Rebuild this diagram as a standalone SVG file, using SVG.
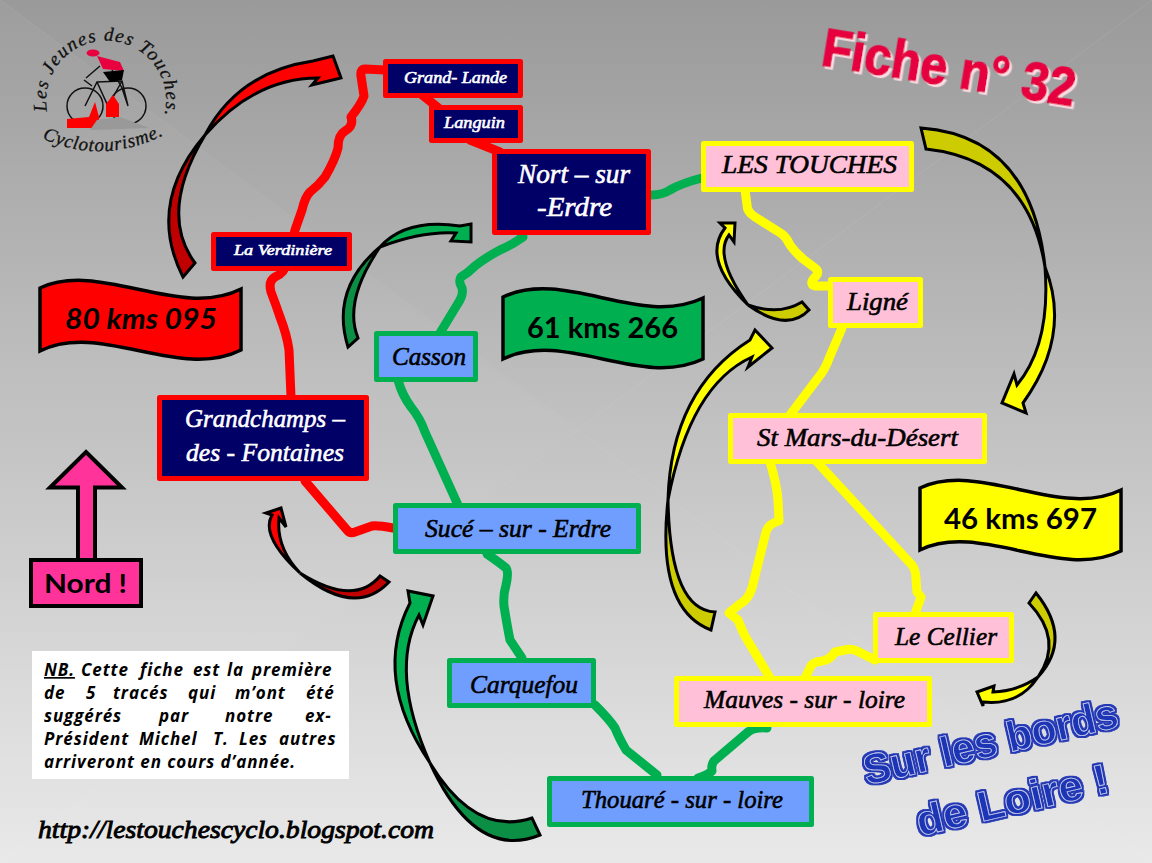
<svg xmlns="http://www.w3.org/2000/svg" width="1152" height="863" viewBox="0 0 1152 863">
<defs>
<linearGradient id="bg" x1="0" y1="0" x2="0" y2="1"><stop offset="0" stop-color="#9a9a9a"/><stop offset="0.35" stop-color="#b6b6b6"/><stop offset="1" stop-color="#e9e9e9"/></linearGradient>
<filter id="ext" x="-10%" y="-20%" width="120%" height="150%"><feDropShadow dx="2.500" dy="2" stdDeviation="0" flood-color="#fbdde6"/></filter>
<filter id="outl" x="-10%" y="-20%" width="120%" height="140%"><feMorphology in="SourceAlpha" operator="dilate" radius="2.400" result="d"/><feFlood flood-color="#2438b4"/><feComposite in2="d" operator="in" result="b"/><feMerge><feMergeNode in="b"/><feMergeNode in="SourceGraphic"/></feMerge></filter>
</defs>
<style>
.road{fill:none;stroke-width:9;stroke-linejoin:round;stroke-linecap:round}
.r{stroke:#ff0000}.g{stroke:#00b050}.y{stroke:#ffff00}
.box{stroke-width:5;stroke-linejoin:round}
.nr{fill:#000066;stroke:#ff0000}.ng{fill:#6f9eff;stroke:#00b050}.ny{fill:#ffc0d8;stroke:#ffff00}
.t{font-family:"Liberation Serif",serif;font-style:italic;font-weight:normal;fill:#000;stroke:#000;stroke-width:0.6px}
.w{fill:#fff;stroke:#fff}
.ar{stroke:#000;stroke-width:3;stroke-linejoin:miter}
.ban{stroke:#000;stroke-width:3.5;stroke-linejoin:miter}
.bt{font-family:Lato,"Liberation Sans",sans-serif;font-weight:bold;fill:#000}
.nb{font-family:"Open Sans","Liberation Sans",sans-serif;font-weight:bold;font-style:italic;font-size:17px;letter-spacing:0.9px;fill:#000}
</style>
<g id="background">
<rect width="1152" height="863" fill="url(#bg)"/>
<polygon points="0,0 575,430 0,860" fill="#fff" opacity="0.03"/>
<path d="M0,0 L580,432 L1152,863 M0,863 L575,432 L1152,0" stroke="#fff" stroke-width="1.500" opacity="0.05" fill="none"/>
</g>
<g id="connectors">
<path class="road r" d="M385,70 L365,69 Q360,69 361,76 L364,96 Q362,103 351,117 Q354,126 345,131 Q338,135 338,148 Q335,160 325,177 Q318,186 310,192 Q305,197 302,210 L295,230 L287,262 Q285,273 275,277 Q268,281 271,292 Q276,305 280,317 Q287,335 289,350 L291,397"/>
<path class="road r" d="M305,481 L347,530 Q350,534 355,532 L372,526 Q377,525 393,528"/>
<path class="road r" d="M421,94 L441,110"/>
<path class="road r" d="M470,140 L500,152"/>
<path class="road g" d="M652,195 Q662,195 670,190 Q682,183 702,178"/>
<path class="road g" d="M523,237 Q510,246 500,250 Q485,258 475,266 Q468,273 461,277 Q458,281 462,288 Q464,295 457,305 L440,333"/>
<path class="road g" d="M398,380 Q402,395 411,407 Q420,418 425,432 L458,505"/>
<path class="road g" d="M487,554 Q500,563 506,568 Q509,572 506,585 Q503,595 504,606 Q507,625 510,640 L522,658"/>
<path class="road g" d="M595,705 Q610,720 615,728 Q619,738 626,750 L657,775"/>
<path class="road g" d="M698,778 Q708,775 712,771 Q711,765 714,761 L748,732 Q755,727 767,728"/>
<path class="road y" d="M745,190 L747,205 Q747,212 755,217 L782,234 Q787,238 790,245 Q795,252 803,259 L815,268 Q820,272 816,276 Q808,284 815,286 L830,286"/>
<path class="road y" d="M842,328 L830,356 Q825,370 818,378 L790,415"/>
<path class="road y" d="M770,462 Q777,485 778,500 L779,521 Q768,524 766,532 L752,588 Q748,600 740,604 L729,613 L738,620 Q742,630 745,636 L770,678"/>
<path class="road y" d="M817,462 L912,565 Q916,570 916,580 L917,592 L921,597 L915,614"/>
<path class="road y" d="M875,660 L857,651 Q850,648 845,650 L835,652 Q830,660 822,661 Q812,662 810,668 L805,678"/>
</g>
<g id="arrows">
<path class="ar" fill="#c00000" d="M183,277 Q146,204 205,135 Q158,213 195,263 Z"/>
<path class="ar" fill="#ff0000" d="M205,135 Q238,72 313,61 L333,56 L341,78 L312,85 L318,78 Q255,78 205,135 Z"/>
<path class="ar" fill="#0b8f45" d="M348,347 Q330,289 380,247 Q343,301 358,338 Z"/>
<path class="ar" fill="#00b050" d="M380,247 Q406,218 460,226 L471,224 L471,242 L451,241 L456,233 Q422,231 380,247 Z"/>
<path class="ar" fill="#cccc00" d="M711,630 Q656,609 668,500 Q670,610 715,612 Z"/>
<path class="ar" fill="#ffff00" d="M668,500 Q671,390 750,340 L755,330 L772,348 L748,367 L752,357 Q690,385 668,500 Z"/>
<path class="ar" fill="#cccc00" d="M921,128 Q1031,136 1045,267 Q1028,160 926,149 Z"/>
<path class="ar" fill="#ffff00" d="M1045,267 Q1072,335 1023,403 L1026,413 L1002,403 L1014,374 L1017,385 Q1051,344 1045,267 Z"/>
<path class="ar" fill="#cccc00" d="M809,310 Q787,333 748,305 Q779,316 802,302 Z"/>
<path class="ar" fill="#ffff00" d="M748,305 Q701,259 725,228 L720,223 L735,223 L734,242 L729,235 Q713,256 748,305 Z"/>
<path class="ar" fill="#c00000" d="M389,582 Q355,618 300,573 Q354,607 380,576 Z"/>
<path class="ar" fill="#ff0000" d="M300,573 Q260,536 272,515 L266,513 L281,508 L286,527 L279,518 Q276,548 300,573 Z"/>
<path class="ar" fill="#0b8f45" d="M540,835 Q475,861 430,763 Q475,837 532,818 Z"/>
<path class="ar" fill="#00b050" d="M430,763 Q372,677 410,603 L408,591 L433,596 L423,625 L419,615 Q389,671 430,763 Z"/>
<path class="ar" fill="#cccc00" d="M1036,593 Q1073,639 1038,677 Q1064,640 1029,603 Z"/>
<path class="ar" fill="#ffff00" d="M1038,677 Q1019,706 983,702 L983,706 L977,692 L994,686 L993,692 Q1018,691 1038,677 Z"/>
</g>
<g id="node-grand-lande"><rect class="box nr" x="385.500" y="61.500" width="135" height="34"/><text class="t w" x="404" y="83" font-size="16" textLength="103" lengthAdjust="spacingAndGlyphs">Grand- Lande</text></g>
<g id="node-languin"><rect class="box nr" x="431.500" y="107.500" width="89" height="33"/><text class="t w" x="444" y="128" font-size="16" textLength="61" lengthAdjust="spacingAndGlyphs">Languin</text></g>
<g id="node-nort"><rect class="box nr" x="494.500" y="151.500" width="154" height="81"/><text class="t w" font-size="27"><tspan x="518" y="183" textLength="112" lengthAdjust="spacingAndGlyphs">Nort – sur</tspan><tspan x="537" y="216" textLength="75" lengthAdjust="spacingAndGlyphs">-Erdre</tspan></text></g>
<g id="node-verdiniere"><rect class="box nr" x="213.500" y="234.500" width="136" height="34"/><text class="t w" x="234" y="255" font-size="15" textLength="98" lengthAdjust="spacingAndGlyphs">La Verdinière</text></g>
<g id="node-grandchamps"><rect class="box nr" x="159.500" y="397.500" width="207" height="81"/><text class="t w" font-size="26"><tspan x="185" y="427" textLength="160" lengthAdjust="spacingAndGlyphs">Grandchamps –</tspan><tspan x="186" y="461" textLength="158" lengthAdjust="spacingAndGlyphs">des - Fontaines</tspan></text></g>
<g id="node-casson"><rect class="box ng" x="376.500" y="333.500" width="99" height="46"/><text class="t" x="392" y="365" font-size="25" textLength="74" lengthAdjust="spacingAndGlyphs">Casson</text></g>
<g id="node-suce"><rect class="box ng" x="395.500" y="505.500" width="243" height="46"/><text class="t" x="425" y="537" font-size="26" textLength="186" lengthAdjust="spacingAndGlyphs">Sucé – sur - Erdre</text></g>
<g id="node-carquefou"><rect class="box ng" x="449.500" y="660.500" width="144" height="45"/><text class="t" x="470" y="693" font-size="26" textLength="108" lengthAdjust="spacingAndGlyphs">Carquefou</text></g>
<g id="node-thouare"><rect class="box ng" x="549.500" y="778.500" width="262" height="46"/><text class="t" x="581" y="808" font-size="26" textLength="202" lengthAdjust="spacingAndGlyphs">Thouaré - sur - loire</text></g>
<g id="node-touches"><rect class="box ny" x="703.500" y="143.500" width="208" height="46"/><text class="t" x="722" y="173" font-size="26" textLength="175" lengthAdjust="spacingAndGlyphs">LES TOUCHES</text></g>
<g id="node-ligne"><rect class="box ny" x="830.500" y="279.500" width="90" height="46"/><text class="t" x="847" y="310" font-size="26" textLength="61" lengthAdjust="spacingAndGlyphs">Ligné</text></g>
<g id="node-st-mars"><rect class="box ny" x="730.500" y="415.500" width="254" height="46"/><text class="t" x="757" y="446" font-size="26" textLength="201" lengthAdjust="spacingAndGlyphs">St Mars-du-Désert</text></g>
<g id="node-cellier"><rect class="box ny" x="875.500" y="614.500" width="136" height="46"/><text class="t" x="895" y="645" font-size="26" textLength="102" lengthAdjust="spacingAndGlyphs">Le Cellier</text></g>
<g id="node-mauves"><rect class="box ny" x="676.500" y="678.500" width="253" height="46"/><text class="t" x="704" y="708" font-size="26" textLength="201" lengthAdjust="spacingAndGlyphs">Mauves - sur - loire</text></g>
<g id="banner-red"><path class="ban" fill="#ff0000" d="M40,288 C100,260 180,320 241,289 L241,350 C180,381 100,321 40,351 Z"/><text class="bt" x="65" y="329" font-size="28" font-style="italic" textLength="152" lengthAdjust="spacingAndGlyphs">80 kms 095</text></g>
<g id="banner-green"><path class="ban" fill="#00b050" d="M503,297 C565,268 640,328 703,298 L703,359 C640,389 565,329 503,359 Z"/><text class="bt" x="527" y="338" font-size="29" textLength="151" lengthAdjust="spacingAndGlyphs">61 kms 266</text></g>
<g id="banner-yellow"><path class="ban" fill="#ffff00" d="M920,488 C980,460 1060,520 1121,490 L1121,551 C1060,581 980,521 920,550 Z"/><text class="bt" x="944" y="529" font-size="29" textLength="153" lengthAdjust="spacingAndGlyphs">46 kms 697</text></g>
<g id="node-nord">
<path d="M86,452 L122,487.500 L95,487.500 L95,560 L78,560 L78,487.500 L50,487.500 Z" fill="#ff3399" stroke="#000" stroke-width="4"/>
<rect x="31" y="560" width="110" height="46" fill="#ff3399" stroke="#000" stroke-width="4"/>
<text class="bt" x="44" y="593" font-size="27" textLength="83" lengthAdjust="spacingAndGlyphs">Nord !</text>
</g>
<g id="note">
<rect x="32" y="651" width="317" height="128" fill="#fff"/>
<text class="nb"><tspan x="44" y="676" text-decoration="underline">NB.</tspan><tspan x="81" y="676">Cette</tspan><tspan x="140" y="676">fiche</tspan><tspan x="193" y="676">est</tspan><tspan x="227" y="676">la</tspan><tspan x="252" y="676">première</tspan><tspan x="44" y="699">de</tspan><tspan x="86" y="699">5</tspan><tspan x="113" y="699">tracés</tspan><tspan x="188" y="699">qui</tspan><tspan x="235" y="699">m’ont</tspan><tspan x="306" y="699">été</tspan><tspan x="44" y="722">suggérés</tspan><tspan x="159" y="722">par</tspan><tspan x="225" y="722">notre</tspan><tspan x="305" y="722">ex-</tspan><tspan x="44" y="745">Président</tspan><tspan x="139" y="745">Michel</tspan><tspan x="213" y="745">T.</tspan><tspan x="239" y="745">Les</tspan><tspan x="279" y="745">autres</tspan><tspan x="44" y="768">arriveront en cours d’année.</tspan></text>
</g>
<text id="url" class="t" x="38" y="838" font-size="26" textLength="396" lengthAdjust="spacingAndGlyphs" style="stroke-width:0.9px">http://lestouchescyclo.blogspot.com</text>
<text id="fiche" transform="translate(820,65) rotate(9.300)" font-family="'Liberation Sans',sans-serif" font-weight="bold" font-size="53" fill="#e6003f" stroke="#e6003f" stroke-width="1.500" filter="url(#ext)" textLength="256" lengthAdjust="spacingAndGlyphs">Fiche n° 32</text>
<g id="loire" font-family="'Liberation Sans',sans-serif" font-weight="bold" font-size="42" fill="#1f35b5" stroke="#c9d0f2" stroke-width="0.800" filter="url(#outl)">
<text transform="translate(867,785) rotate(-13)" textLength="260" lengthAdjust="spacingAndGlyphs">Sur les bords</text>
<text transform="translate(920,836) rotate(-13)" textLength="196" lengthAdjust="spacingAndGlyphs">de Loire !</text>
</g>
<g id="logo">
<circle cx="85" cy="106" r="18" fill="none" stroke="#111" stroke-width="1.500"/>
<circle cx="128" cy="106" r="18" fill="none" stroke="#111" stroke-width="1.500"/>
<path d="M85,106 L97,82 L122,81 L128,106 M97,82 L108,106 L122,81 M84,80 L92,86 M100,66 L86,78 M112,70 L122,88 L128,106" fill="none" stroke="#111" stroke-width="1.500"/>
<ellipse cx="93" cy="53" rx="6.500" ry="3.500" fill="#e8003f"/>
<path d="M97,56 L120,62 L124,71 L103,69 Z" fill="#e8003f"/>
<path d="M103,72 L124,70 L122,80 L110,82 Z" fill="#000"/>
<path d="M67,128 L67,119 L89,117 L95,102 L99,117 L99,128 Z M106,117 L106,104 L113,95 L119,104 L119,117 Z" fill="#ff0000"/>
<path d="M90,130 L97,120 L120,117 L149,128 Z" fill="#999"/>
<path id="arc1" d="M47,111 A60,60 0 1 1 160,127" fill="none"/>
<path id="arc2" d="M42,138 Q104,168 174,130" fill="none"/>
<text font-family="'Liberation Serif',serif" font-style="italic" font-size="19" fill="#111" stroke="#111" stroke-width="0.300" letter-spacing="1.300"><textPath href="#arc1">Les Jeunes des Touches.</textPath></text>
<text font-family="'Liberation Serif',serif" font-style="italic" font-size="19" fill="#111" stroke="#111" stroke-width="0.300" letter-spacing="0.800"><textPath href="#arc2">Cyclotourisme.</textPath></text>
</g>
</svg>
